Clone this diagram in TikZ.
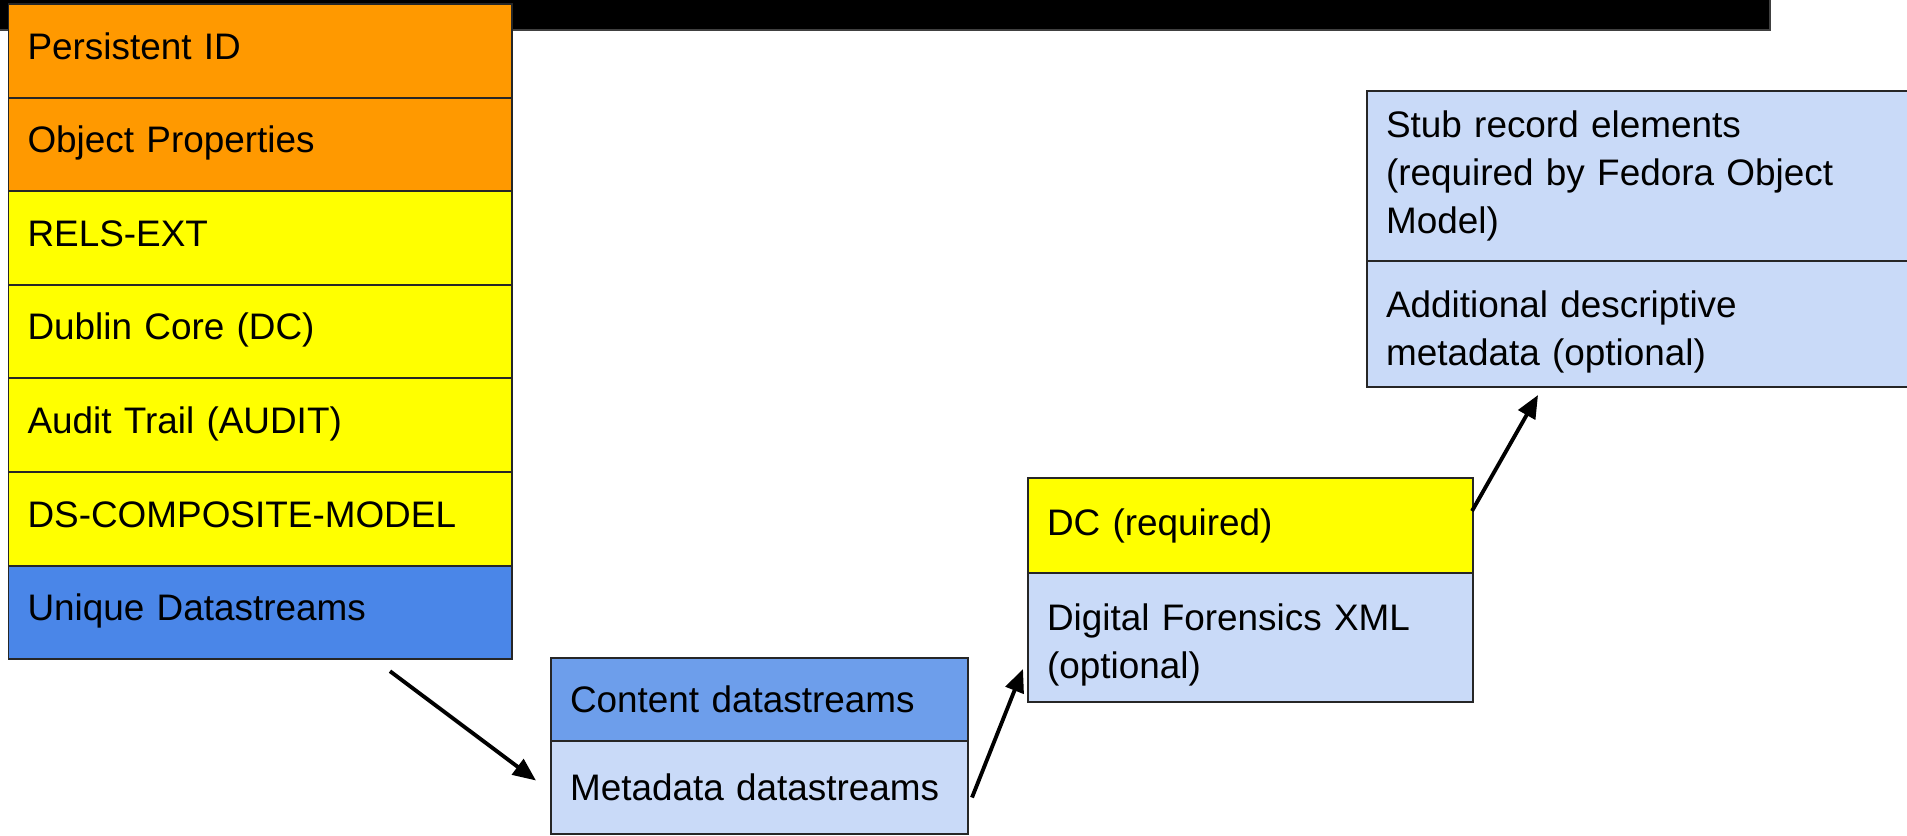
\documentclass[tikz,border=0pt]{standalone}
\usepackage{fontspec}
\setmainfont{Liberation Sans}
\usepackage{xcolor}
\usepackage{tikz}
\usetikzlibrary{positioning,
                arrows.meta,
                calc}

\definecolor{propsorange}{HTML}{FF9900}
\definecolor{dcyellow}{HTML}{FFFF00}
\definecolor{uniqblue}{HTML}{4A86E8}
\definecolor{contblue}{HTML}{6D9EEB}
\definecolor{paleblue}{HTML}{C9DAF8}

\begin{document}
\begin{tikzpicture}
[node distance=0pt,>={Triangle[length=4.6mm,width=3.8mm]},
 every node/.style={font=\fontsize{21}{27.3}\selectfont},
 box/.style={draw=black!85,line width=1.1pt,align=left,inner xsep=3.8mm,inner ysep=0pt,outer sep=0pt},
 stack row/.style={box,text width=9.31cm,minimum height=1.872cm,text height=0.55cm,text depth=0.22cm},
 orange row/.style={stack row,fill=propsorange},
 yellow row/.style={stack row,fill=dcyellow},
 low text/.style={text height=0.84cm},
 link/.style={->,line width=2.2pt}]

\clip (0,0) rectangle (38.14,-16.7);
\draw [fill=black,draw=black!75,line width=1pt] (-0.2,0.2) rectangle (35.4,-0.6);

\node [orange row,anchor=north west] (pid) at (0.17,-0.08) {Persistent ID};
\node [orange row] (props) [below=of pid] {Object Properties};
\node [yellow row] (rels) [below=of props] {RELS-EXT};
\node [yellow row] (dc) [below=of rels] {Dublin Core (DC)};
\node [yellow row] (audit) [below=of dc] {Audit Trail (AUDIT)};
\node [yellow row] (dscm) [below=of audit] {DS-COMPOSITE-MODEL};
\node [stack row,fill=uniqblue] (uniq) [below=of dscm] {Unique Datastreams};

\node [box,fill=contblue,text width=7.58cm,minimum height=1.66cm,anchor=north west] (cont) at (11.02,-13.16) {Content datastreams};
\node [box,fill=paleblue,text width=7.58cm,minimum height=1.86cm] (meta) [below=of cont] {Metadata datastreams};

\node [box,fill=dcyellow,text width=8.14cm,minimum height=1.9cm,anchor=north west] (dcreq) at (20.56,-9.56) {DC (required)};
\node [box,fill=paleblue,text width=8.14cm,minimum height=2.58cm,low text] (dfxml) [below=of dcreq] {Digital Forensics XML\\(optional)};

\node [box,fill=paleblue,text width=11.24cm,minimum height=3.4cm,anchor=north west] (stub) at (27.34,-1.82) {Stub record elements\\(required by Fedora Object\\Model)};
\node [box,fill=paleblue,text width=11.24cm,minimum height=2.52cm,low text] (addl) [below=of stub] {Additional descriptive\\metadata (optional)};

\draw [link] ($(uniq.south east)+(-2.44,-0.24)$) -- ($(meta.west)+(-0.30,0.14)$);
\draw [link] ($(meta.east)+(0.08,-0.2)$) -- ($(dfxml.south west)+(-0.10,0.66)$);
\draw [link] ($(dcreq.east)+(-0.02,0.29)$) -- ($(addl.south west)+(3.42,-0.16)$);
\end{tikzpicture}
\end{document}
